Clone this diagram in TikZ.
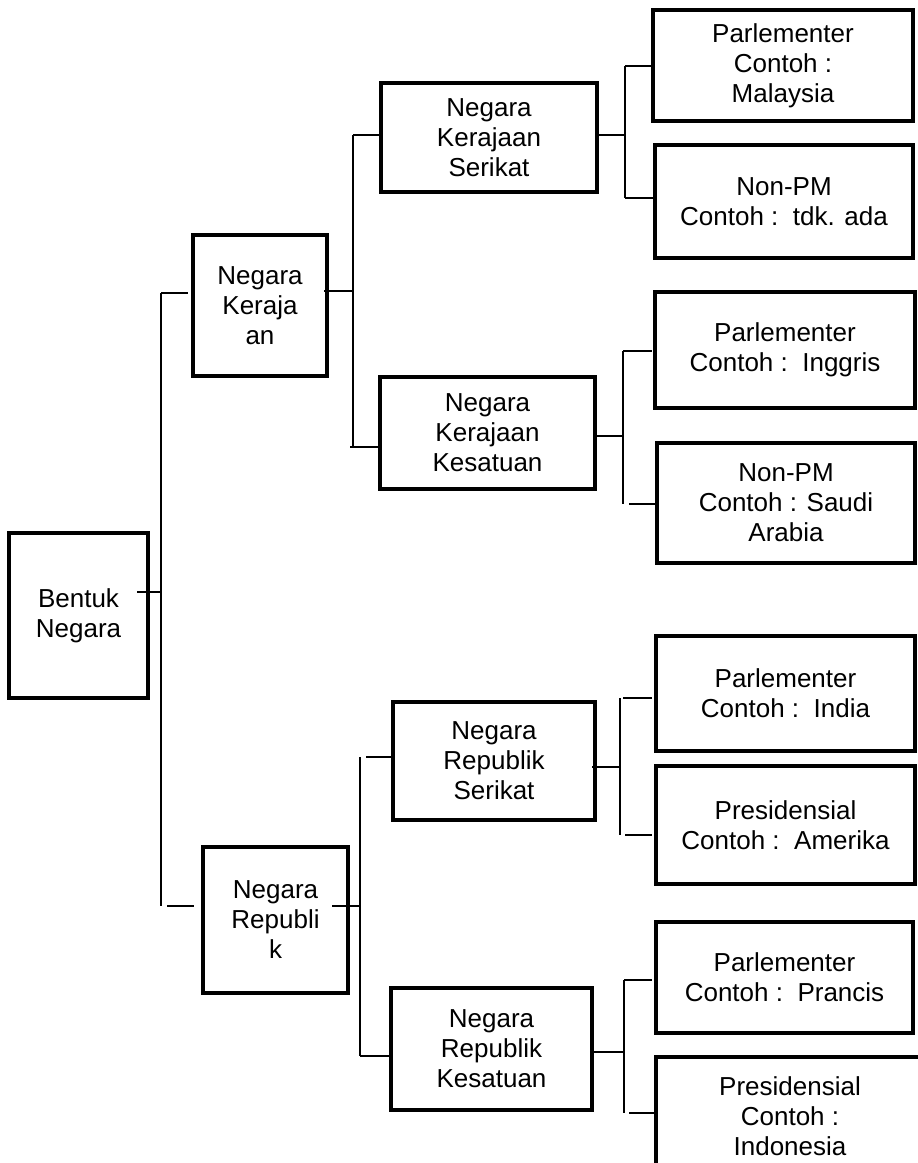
\documentclass[tikz,border=0pt]{standalone}
\usepackage{fontspec}
\setmainfont{Liberation Sans}
\tikzset{
  box/.style={draw, line width=3.2pt, fill=white, inner sep=0pt, outer sep=0pt,
    align=center, anchor=north west, font={\fontsize{26}{30}\selectfont}},
  conn/.style={line width=1.6pt},
}
\begin{document}
\begin{tikzpicture}[x=1pt, y=-1pt]
\useasboundingbox (0,0) rectangle (918,1163);
\clip (0,0) rectangle (918,1163);

% root
\node[box, minimum width=139pt, minimum height=165pt] (b0) at (9,533) {Bentuk\\Negara};

% first level
\node[box, minimum width=134pt, minimum height=141pt] (k) at (193,235) {Negara\\Keraja\\an};
\node[box, minimum width=145pt, minimum height=146pt] (r) at (203,847) {Negara\\Republi\\k};

% second level
\node[box, minimum width=216pt, minimum height=109pt] (ks) at (381,83) {Negara\\Kerajaan\\Serikat};
\node[box, minimum width=215pt, minimum height=112pt] (kk) at (380,377) {Negara\\Kerajaan\\Kesatuan};
\node[box, minimum width=202pt, minimum height=118pt] (rs) at (393,702) {Negara\\Republik\\Serikat};
\node[box, minimum width=201pt, minimum height=122pt] (rk) at (391,988) {Negara\\Republik\\Kesatuan};

% third level
\node[box, minimum width=260pt, minimum height=111pt] (p1) at (653,10) {Parlementer\\Contoh :\\Malaysia};
\node[box, minimum width=258pt, minimum height=113pt] (n1) at (655,145) {Non-PM\\Contoh :\ \ tdk. ada};
\node[box, minimum width=260pt, minimum height=116pt] (p2) at (655,292) {Parlementer\\Contoh :\ \ Inggris};
\node[box, minimum width=258pt, minimum height=120pt] (n2) at (657,443) {Non-PM\\Contoh : Saudi\\Arabia};
\node[box, minimum width=259pt, minimum height=115pt] (p3) at (656,636) {Parlementer\\Contoh :\ \ India};
\node[box, minimum width=259pt, minimum height=118pt] (s3) at (656,766) {Presidensial\\Contoh :\ \ Amerika};
\node[box, minimum width=257pt, minimum height=111pt] (p4) at (656,922) {Parlementer\\Contoh :\ \ Prancis};
\node[box, minimum width=268pt, minimum height=118pt] (s4) at (656,1057) {Presidensial\\Contoh :\\Indonesia};

% bus junctions
\coordinate (j0)  at (161,592);
\coordinate (j0t) at (161,293);
\coordinate (j0b) at (161,906);
\coordinate (jkt) at (353,135);
\coordinate (jkb) at (353,447);
\coordinate (jrt) at (360,757);
\coordinate (jrb) at (360,1056);
\coordinate (j1t) at (625,66);
\coordinate (j1b) at (625,198);
\coordinate (j2t) at (623,351);
\coordinate (j2b) at (623,504);
\coordinate (j3t) at (620,698);
\coordinate (j3b) at (620,835);
\coordinate (j4t) at (624,980);
\coordinate (j4b) at (624,1113);

\begin{scope}[conn]
% root to first level
\draw ([xshift=-11pt]b0.east |- j0) -- (j0);
\draw (j0t) -- (j0b);
\draw (j0t) -- ([xshift=-5pt]k.west |- j0t);
\draw ([xshift=6pt]j0b) -- ([xshift=-9pt]r.west |- j0b);

% Negara Kerajaan
\draw ([xshift=-3pt]k.east |- 0,291) -- (jkt |- 0,291);
\draw (jkt) -- (jkb);
\draw (jkt) -- (ks.west |- jkt);
\draw ([xshift=-3pt]jkb) -- (kk.west |- jkb);

% Negara Republik
\draw ([xshift=-16pt]r.east |- j0b) -- (jrt |- j0b);
\draw (jrt) -- (jrb);
\draw ([xshift=6pt]jrt) -- (rs.west |- jrt);
\draw (jrb) -- (rk.west |- jrb);

% Negara Kerajaan Serikat
\draw (ks.east |- jkt) -- (j1t |- jkt);
\draw (j1t) -- (j1b);
\draw (j1t) -- (p1.west |- j1t);
\draw (j1b) -- (n1.west |- j1b);

% Negara Kerajaan Kesatuan
\draw (kk.east |- 0,436) -- (j2t |- 0,436);
\draw (j2t) -- (j2b);
\draw (j2t) -- ([xshift=-3pt]p2.west |- j2t);
\draw ([xshift=6pt]j2b) -- (n2.west |- j2b);

% Negara Republik Serikat
\draw ([xshift=-3pt]rs.east |- 0,767) -- (j3t |- 0,767);
\draw (j3t) -- (j3b);
\draw ([xshift=3pt]j3t) -- ([xshift=-4pt]p3.west |- j3t);
\draw ([xshift=5pt]j3b) -- ([xshift=-4pt]s3.west |- j3b);

% Negara Republik Kesatuan
\draw (rk.east |- 0,1052) -- (j4t |- 0,1052);
\draw (j4t) -- (j4b);
\draw (j4t) -- ([xshift=-4pt]p4.west |- j4t);
\draw ([xshift=5pt]j4b) -- (s4.west |- j4b);
\end{scope}
\end{tikzpicture}
\end{document}
